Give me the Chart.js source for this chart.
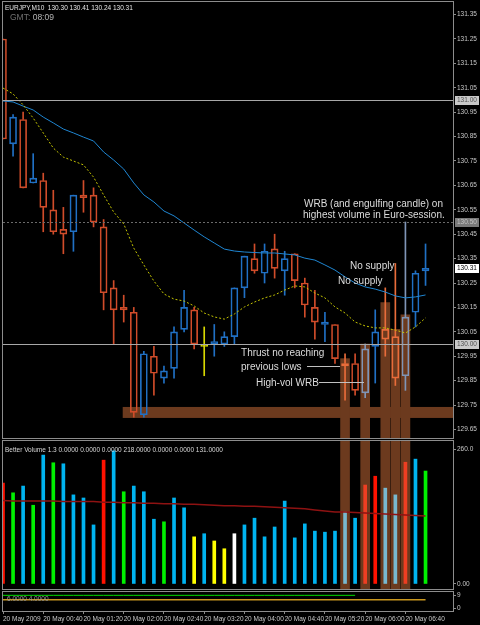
<!DOCTYPE html>
<html>
<head>
<meta charset="utf-8">
<title>EURJPY,M10</title>
<script src="https://cdn.jsdelivr.net/npm/chart.js@4.4.0/dist/chart.umd.min.js"></script>
<style>
  html, body { margin: 0; padding: 0; background: #000; }
  #wrap { position: relative; width: 480px; height: 625px; background: #000; overflow: hidden; }
  #wrap canvas { position: absolute; left: 0; }
</style>
</head>
<body>
<div id="wrap">
  <canvas id="cMain" width="480" height="440" style="top:0;width:480px;height:440px"></canvas>
  <canvas id="cVol" width="480" height="150" style="top:440px;width:480px;height:150px"></canvas>
  <canvas id="cSig" width="480" height="35" style="top:590px;width:480px;height:35px"></canvas>
</div>
<script>
// --- valores (EURJPY M10, 20 May 2009) ---
const timeTickIdx = [0, 4, 8, 12, 16, 20, 24, 28, 32, 36, 40];
const timeLabels = ['20 May 2009', '20 May 00:40', '20 May 01:20', '20 May 02:00', '20 May 02:40',
  '20 May 03:20', '20 May 04:00', '20 May 04:40', '20 May 05:20', '20 May 06:00', '20 May 06:40'];

const opens  = [131.25,130.82,130.92,130.66,130.67,130.55,130.47,130.46,130.61,130.61,130.48,130.23,130.15,130.13,129.71,129.95,129.86,129.90,130.06,130.14,129.99,130.00,130.00,130.03,130.23,130.35,130.29,130.39,130.30,130.37,130.25,130.15,130.08,130.08,129.92,129.92,129.80,129.99,130.06,130.03,129.87,130.13,130.30];
const highs  = [131.25,130.94,130.95,130.78,130.70,130.63,130.56,130.61,130.67,130.64,130.51,130.26,130.20,130.15,129.97,129.99,129.91,130.07,130.22,130.15,130.07,130.08,130.05,130.23,130.36,130.41,130.41,130.45,130.38,130.37,130.27,130.22,130.13,130.08,129.96,129.96,130.00,130.14,130.23,130.33,130.50,130.30,130.41];
const lows   = [130.84,130.77,130.64,130.66,130.46,130.45,130.37,130.38,130.54,130.48,130.14,130.00,130.09,129.70,129.70,129.79,129.84,129.86,130.05,129.98,129.87,129.95,129.99,130.00,130.19,130.29,130.25,130.27,130.20,130.23,130.11,130.02,130.01,129.92,129.77,129.79,129.78,129.84,129.95,129.83,129.81,130.07,130.24];
const closes = [130.84,130.93,130.64,130.68,130.56,130.46,130.45,130.61,130.60,130.50,130.21,130.14,130.14,129.72,129.96,129.88,129.89,130.05,130.15,130.00,129.99,130.01,130.03,130.23,130.36,130.30,130.38,130.31,130.35,130.26,130.16,130.09,130.09,129.94,129.91,129.81,129.98,130.05,130.02,129.86,130.11,130.29,130.31];

// medias moviles del grafico de precio
const maSlow = [130.996,130.992,130.975,130.959,130.930,130.906,130.881,130.865,130.848,130.832,130.787,130.754,130.717,130.660,130.611,130.582,130.545,130.525,130.496,130.467,130.439,130.414,130.389,130.381,130.377,130.375,130.373,130.373,130.369,130.365,130.352,130.344,130.324,130.303,130.275,130.250,130.234,130.225,130.213,130.197,130.189,130.193,130.201];
const maFast = [131.049,131.025,130.980,130.926,130.865,130.803,130.766,130.750,130.734,130.684,130.611,130.541,130.492,130.393,130.324,130.258,130.205,130.184,130.176,130.156,130.127,130.111,130.102,130.123,130.152,130.172,130.189,130.201,130.221,130.238,130.234,130.209,130.189,130.152,130.127,130.090,130.074,130.066,130.066,130.057,130.045,130.070,130.107];

// Better Volume 1.3
const volumes  = [195,176,189,152,249,234,232,172,166,114,239,257,178,189,178,125,120,166,147,91,97,83,68,97,114,127,91,110,160,89,116,102,100,102,139,127,191,208,185,172,235,241,218];
const volClass = ['r','g','b','g','b','g','b','b','b','b','r','b','g','b','b','b','g','b','b','y','b','y','y','w','b','b','b','b','b','b','b','b','b','b','b','b','r','r','b','b','r','b','g'];
const volMA    = [161,160,160,160,160,160,159,159,159,159,158,158,157,157,156,156,155,155,154,154,153,152,151,151,150,150,149,148,147,146,145,143,141,139,139,138,137,136,135,134,133,132,131];

// tercer panel
const sigGreen = [9,9,9,9,9,9,9,9,9,9,9,9,9,9,9,9,9,9,9,9,9,9,9,9,9,9,9,9,9,9,9,9,9,9,9,9];
const sigGold  = [6,6,6,6,6,6,6,6,6,6,6,6,6,6,6,6,6,6,6,6,6,6,6,6,6,6,6,6,6,6,6,6,6,6,6,6,6,6,6,6,6,6,6];

// ejes
const priceTicks = [131.35,131.25,131.15,131.05,130.95,130.85,130.75,130.65,130.55,130.45,130.35,130.25,130.15,130.05,129.95,129.85,129.75,129.65];
const volTicks = [260, 0];
const volTickLabels = ['260.0', '0.00'];
const sigTicks = [9, 0];

// niveles y zonas marcadas
const levelSolid = [131.00, 130.00];
const levelDotted = [130.50];
const hlIndex = [34, 36, 38, 39, 40];
const hlTop = [129.94, 130.00, 130.17, 130.06, 130.12];
const bandFrom = 11.9;
const bandPrices = [129.742, 129.697];

// rangos de escala
const PRICE_MIN = 129.6148, PRICE_MAX = 131.4016;
const VOL_MIN = -9.7, VOL_MAX = 276;
const SIG_MIN = -1.87, SIG_MAX = 11.3;
const X_MIN = 0, X_MAX = 44.73;

// colores
const BULL = '#2070c4', BEAR = '#d04c2a', DOJI = '#d8d800';
const BULL_HL = '#7f95b6', BEAR_HL = '#e86c3a';
const HL_FILL = '#6c3a1e';
const FRAME = '#8c8c8c', LABEL = '#c8c8c8', NOTE = '#dcdcdc';
const VOL_COL = { r: '#ff1200', g: '#00f000', b: '#00b4f0', y: '#ffff00', w: '#ffffff' };
const VOL_COL_HL = { r: '#ee3e22', b: '#78b8cf' };
const FONT = '"Liberation Sans", Arial, sans-serif';

Chart.defaults.font.family = FONT;
Chart.defaults.color = LABEL;
Chart.defaults.animation = false;

const idx = opens.map((_, i) => i);
const isHl = i => hlIndex.includes(i);

function candleColor(i) {
  if (opens[i] === closes[i]) return DOJI;
  if (closes[i] > opens[i]) return isHl(i) ? BULL_HL : BULL;
  return isHl(i) ? BEAR_HL : BEAR;
}
function volColor(i) {
  const c = volClass[i];
  if (isHl(i) && VOL_COL_HL[c]) return VOL_COL_HL[c];
  return VOL_COL[c];
}

const candleColors = idx.map(candleColor);
const last = idx.length - 1;

function xAxis(show) {
  return {
    type: 'linear', min: X_MIN, max: X_MAX, offset: false, bounds: 'data', display: show,
    grid: { drawOnChartArea: false, tickLength: 3, color: FRAME },
    border: { color: FRAME },
    afterBuildTicks: s => { s.ticks = timeTickIdx.map(v => ({ value: v })); },
    afterFit: s => {
      if (!show) return;
      s.height = 14; s.paddingLeft = 0; s.paddingRight = 0;
    },
    ticks: {
      align: 'start', autoSkip: false, maxRotation: 0, minRotation: 0, padding: 1,
      font: { size: 6.5 }, color: LABEL,
      callback: (v, k) => timeLabels[k]
    }
  };
}
function yAxis(min, max, ticks, fmt) {
  return {
    position: 'right', min, max, bounds: 'data',
    grid: { drawOnChartArea: false, tickLength: 3, color: FRAME },
    border: { color: FRAME },
    afterBuildTicks: s => { s.ticks = ticks.map(v => ({ value: v })); },
    afterFit: s => { s.width = 27; s.paddingTop = 0; s.paddingBottom = 0; },
    ticks: { autoSkip: false, padding: 1, font: { size: 6.5 }, color: LABEL, callback: fmt }
  };
}

function drawFrame(chart) {
  const { ctx, chartArea: a } = chart;
  ctx.save();
  ctx.strokeStyle = FRAME;
  ctx.lineWidth = 1;
  ctx.strokeRect(Math.round(a.left) - 0.5, Math.round(a.top) - 0.5,
    Math.round(a.right - a.left) + 1, Math.round(a.bottom - a.top) + 1);
  ctx.restore();
}

// textos del grafico principal (anclados a indice de barra / precio)
const notes = [
  { text: 'WRB (and engulfing candle) on', i: 29.92, p: 130.574 },
  { text: 'highest volume in Euro-session.', i: 29.82, p: 130.529 },
  { text: 'No supply', i: 34.49, p: 130.320 },
  { text: 'No supply', i: 33.30, p: 130.258 },
  { text: 'Thrust no reaching', i: 23.66, p: 129.963 },
  { text: 'previous lows', i: 23.66, p: 129.906 },
  { text: 'High-vol WRB', i: 25.15, p: 129.840 }
];
const leaders = [
  { from: 30.22, to: 33.5, p: 129.910 },
  { from: 31.41, to: 35.88, p: 129.844 }
];
const markStyles = [
  { bg: '#c8c8c8', fg: '#505050' },
  { bg: '#7a7a7a', fg: '#c4c4c4' },
  { bg: '#c8c8c8', fg: '#505050' },
  { bg: '#ffffff', fg: '#000000' }
];
const priceMarks = [131.00, 130.50, 130.00, closes[last]];

const mainDecor = {
  id: 'mainDecor',
  beforeDatasetsDraw(chart) {
    const { ctx, chartArea: a, scales: { x, y } } = chart;
    ctx.save();
    ctx.fillStyle = HL_FILL;
    const x0 = x.getPixelForValue(bandFrom);
    const yT = y.getPixelForValue(bandPrices[0]);
    const yB = y.getPixelForValue(bandPrices[1]);
    ctx.fillRect(x0, yT, a.right - x0, yB - yT);
    ctx.restore();
  },
  afterDatasetsDraw(chart) {
    const { ctx, chartArea: a, scales: { x, y } } = chart;
    ctx.save();
    ctx.lineWidth = 1;
    ctx.strokeStyle = '#a8a8a8';
    levelSolid.forEach(v => {
      const py = Math.round(y.getPixelForValue(v)) + 0.5;
      ctx.beginPath(); ctx.moveTo(a.left, py); ctx.lineTo(a.right, py); ctx.stroke();
    });
    ctx.strokeStyle = '#6a6a6a';
    ctx.setLineDash([2, 2]);
    levelDotted.forEach(v => {
      const py = Math.round(y.getPixelForValue(v)) + 0.5;
      ctx.beginPath(); ctx.moveTo(a.left, py); ctx.lineTo(a.right, py); ctx.stroke();
    });
    ctx.setLineDash([]);

    ctx.strokeStyle = '#c0c0c0';
    leaders.forEach(l => {
      const py = Math.round(y.getPixelForValue(l.p)) + 0.5;
      ctx.beginPath(); ctx.moveTo(x.getPixelForValue(l.from), py); ctx.lineTo(x.getPixelForValue(l.to), py); ctx.stroke();
    });

    ctx.fillStyle = NOTE;
    ctx.font = '10px ' + FONT;
    ctx.textBaseline = 'middle';
    ctx.textAlign = 'left';
    notes.forEach(n => ctx.fillText(n.text, x.getPixelForValue(n.i), y.getPixelForValue(n.p)));
    ctx.restore();
  },
  afterDraw(chart) {
    drawFrame(chart);
    const { ctx, chartArea: a, scales: { y } } = chart;
    ctx.save();
    ctx.textBaseline = 'middle';
    ctx.textAlign = 'left';
    ctx.font = '6.5px ' + FONT;
    ctx.fillStyle = '#e6e6e6';
    const ohlc = [opens[last], highs[last], lows[last], closes[last]].map(v => v.toFixed(2)).join(' ');
    ctx.fillText('EURJPY,M10  ' + ohlc, 5, 8);

    ctx.font = '8.5px ' + FONT;
    ctx.fillStyle = '#707070';
    ctx.fillText('GMT:', 10, 17.5);
    ctx.fillStyle = '#b4b4b4';
    ctx.fillText('08:09', 10 + ctx.measureText('GMT: ').width, 17.5);

    ctx.font = '6.5px ' + FONT;
    priceMarks.forEach((v, k) => {
      const py = Math.round(y.getPixelForValue(v));
      ctx.fillStyle = markStyles[k].bg;
      ctx.fillRect(a.right + 2, py - 4, 24, 9);
      ctx.fillStyle = markStyles[k].fg;
      ctx.fillText(v.toFixed(2), a.right + 4, py + 0.5);
    });
    ctx.restore();
  }
};

new Chart(document.getElementById('cMain'), {
  type: 'bar',
  data: {
    datasets: [
      {
        type: 'bar', label: 'zonas', order: 10, grouped: false, barThickness: 9,
        data: hlIndex.map((i, k) => ({ x: i, y: [PRICE_MIN, hlTop[k]] })),
        backgroundColor: HL_FILL
      },
      {
        type: 'bar', label: 'mecha sup', order: 6, grouped: false, barThickness: 1,
        data: idx.map(i => ({ x: i, y: [Math.max(opens[i], closes[i]), highs[i]] })),
        backgroundColor: candleColors
      },
      {
        type: 'bar', label: 'mecha inf', order: 6, grouped: false, barThickness: 1,
        data: idx.map(i => ({ x: i, y: [lows[i], Math.min(opens[i], closes[i])] })),
        backgroundColor: candleColors
      },
      {
        type: 'bar', label: 'cuerpo', order: 5, grouped: false, barThickness: 7, minBarLength: 1,
        data: idx.map(i => ({ x: i, y: [opens[i], closes[i]] })),
        backgroundColor: idx.map(i => opens[i] === closes[i] ? DOJI : 'rgba(0,0,0,0)'),
        borderColor: candleColors, borderWidth: 1, borderSkipped: false
      },
      {
        type: 'line', label: 'MA lenta', order: 2,
        data: maSlow.map((v, i) => ({ x: i, y: v })),
        borderColor: '#1f86d2', borderWidth: 1, pointRadius: 0, tension: 0
      },
      {
        type: 'line', label: 'MA rapida', order: 1,
        data: maFast.map((v, i) => ({ x: i, y: v })),
        borderColor: '#c4c400', borderWidth: 1, borderDash: [2, 2], pointRadius: 0, tension: 0
      }
    ]
  },
  options: {
    responsive: false, devicePixelRatio: 1, events: [],
    layout: { padding: { left: 3, top: 2, bottom: 2, right: 0 } },
    plugins: { legend: { display: false }, tooltip: { enabled: false } },
    scales: {
      x: xAxis(false),
      y: yAxis(PRICE_MIN, PRICE_MAX, priceTicks, v => v.toFixed(2))
    }
  },
  plugins: [mainDecor]
});

const volDecor = {
  id: 'volDecor',
  afterDraw(chart) {
    drawFrame(chart);
    const { ctx } = chart;
    ctx.save();
    ctx.font = '6.5px ' + FONT;
    ctx.fillStyle = '#d8d8d8';
    ctx.textBaseline = 'middle';
    const vals = ['1.3', '0.0000', '0.0000', '0.0000', volumes[last].toFixed(4), '0.0000', '0.0000', volMA[last].toFixed(4)];
    ctx.fillText('Better Volume ' + vals.join(' '), 5, 10);
    ctx.restore();
  }
};

new Chart(document.getElementById('cVol'), {
  type: 'bar',
  data: {
    datasets: [
      {
        type: 'bar', label: 'zonas', order: 10, grouped: false, barThickness: 9,
        data: hlIndex.map(i => ({ x: i, y: [VOL_MIN, VOL_MAX] })),
        backgroundColor: HL_FILL
      },
      {
        type: 'bar', label: 'volumen', order: 5, grouped: false, barThickness: 3,
        data: idx.map(i => ({ x: i, y: volumes[i] })),
        backgroundColor: idx.map(volColor)
      },
      {
        type: 'line', label: 'media vol', order: 1,
        data: volMA.map((v, i) => ({ x: i, y: v })),
        borderColor: '#8e1212', borderWidth: 1.5, pointRadius: 0, tension: 0
      }
    ]
  },
  options: {
    responsive: false, devicePixelRatio: 1, events: [],
    layout: { padding: { left: 3, top: 1, bottom: 1, right: 0 } },
    plugins: { legend: { display: false }, tooltip: { enabled: false } },
    scales: {
      x: xAxis(false),
      y: yAxis(VOL_MIN, VOL_MAX, volTicks, (v, k) => volTickLabels[k])
    }
  },
  plugins: [volDecor]
});

const sigDecor = {
  id: 'sigDecor',
  afterDraw(chart) {
    drawFrame(chart);
    const { ctx } = chart;
    ctx.save();
    ctx.font = '6.5px ' + FONT;
    ctx.fillStyle = '#9a9a9a';
    ctx.textBaseline = 'middle';
    ctx.fillText(sigGold[last].toFixed(4) + ' 4.0000', 7, 9);
    ctx.restore();
  }
};

new Chart(document.getElementById('cSig'), {
  type: 'line',
  data: {
    datasets: [
      {
        label: 'verde', data: sigGreen.map((v, i) => ({ x: i, y: v })),
        borderColor: '#00e000', borderWidth: 1, pointRadius: 0
      },
      {
        label: 'oro', data: sigGold.map((v, i) => ({ x: i, y: v })),
        borderColor: '#c8961e', borderWidth: 1.5, pointRadius: 0
      }
    ]
  },
  options: {
    responsive: false, devicePixelRatio: 1, events: [],
    layout: { padding: { left: 3, top: 2, bottom: 0, right: 0 } },
    plugins: { legend: { display: false }, tooltip: { enabled: false } },
    scales: {
      x: xAxis(true),
      y: yAxis(SIG_MIN, SIG_MAX, sigTicks, v => String(v))
    }
  },
  plugins: [sigDecor]
});
</script>
</body>
</html>
